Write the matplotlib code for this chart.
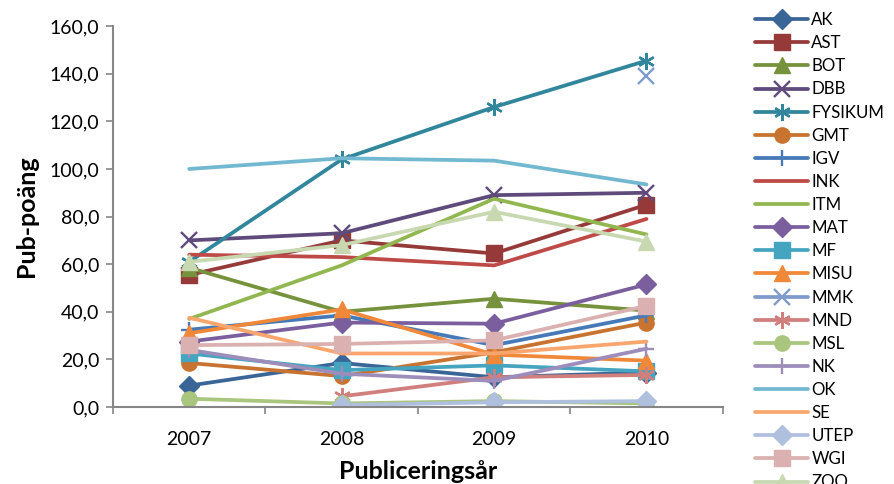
import numpy as np
import matplotlib
matplotlib.use('Agg')
import matplotlib.pyplot as plt
from matplotlib.ticker import FuncFormatter

plt.rcParams['font.family'] = ['Lato', 'DejaVu Sans']

# Pub-poäng per institution och år
years = ['2007', '2008', '2009', '2010']
nan = np.nan

AK = [9.0, 18.5, 12.5, 14.5]
AST = [55.5, 70.0, 64.5, 85.0]
BOT = [58.5, 40.0, 45.5, 40.5]
DBB = [70.0, 73.0, 89.0, 90.0]
FYSIKUM = [61.0, 104.0, 126.0, 145.5]
GMT = [18.5, 13.0, 23.0, 35.5]
IGV = [32.5, 38.5, 26.0, 38.5]
INK = [64.0, 63.0, 59.5, 79.0]
ITM = [37.0, 59.5, 87.5, 72.5]
MAT = [27.5, 35.5, 35.0, 51.5]
MF = [22.5, 15.5, 17.5, 15.0]
MISU = [31.0, 41.0, 22.0, 19.5]
MMK = [nan, nan, nan, 139.0]
MND = [nan, 4.5, 12.5, 13.5]
MSL = [3.5, 1.5, 2.5, 1.5]
NK = [24.0, 14.0, 11.0, 24.5]
OK = [100.0, 104.5, 103.5, 93.5]
SE = [37.5, 22.5, 22.5, 27.5]
UTEP = [nan, 0.8, 2.0, 2.5]
WGI = [26.0, 26.5, 28.0, 42.5]
ZOO = [61.0, 68.0, 82.0, 69.5]

names = ['AK', 'AST', 'BOT', 'DBB', 'FYSIKUM', 'GMT', 'IGV', 'INK', 'ITM', 'MAT',
         'MF', 'MISU', 'MMK', 'MND', 'MSL', 'NK', 'OK', 'SE', 'UTEP', 'WGI', 'ZOO']
series = [AK, AST, BOT, DBB, FYSIKUM, GMT, IGV, INK, ITM, MAT,
          MF, MISU, MMK, MND, MSL, NK, OK, SE, UTEP, WGI, ZOO]

# Office-färger och markörer
colors = ['#3A6597', '#953A38', '#76923C', '#5F4A7C', '#31869C', '#C8732F',
          '#4679B8', '#BD4A47', '#92B751', '#7A5E9E', '#45A5C0', '#F0883A',
          '#7E9BCB', '#D07F7C', '#A9C57E', '#9D8DBA', '#72B8D0', '#F9A66E',
          '#AFC0DE', '#DAB1B0', '#C8D9B2']
star = (6, 2, 0)
markers = ['D', 's', '^', 'x', star, 'o', '+', None, None, 'D',
           's', '^', 'x', star, 'o', '+', None, None, 'D', 's', '^']
sizes = {'D': 10, 's': 11, '^': 11, 'x': 11, 'o': 11, '+': 12, star: 12}

fig = plt.figure(figsize=(8.94, 4.84), dpi=100)
ax = fig.add_axes([0.1264, 0.159, 0.682, 0.787])

x = np.arange(len(years))
for name, vals, c, m in zip(names, series, colors, markers):
    kw = dict(color=c, linewidth=2.7, label=name, solid_capstyle='round')
    if m is not None:
        kw.update(marker=m, markersize=sizes[m], markeredgecolor=c, markerfacecolor=c)
        if m in ('x', '+', star):
            kw.update(markeredgewidth=1.7)
    ax.plot(x, vals, **kw)

ax.set_xlim(-0.5, 3.5)
ax.set_ylim(0, 160)
ax.set_yticks(np.arange(0, 161, 20))
ax.yaxis.set_major_formatter(FuncFormatter(lambda v, p: f'{v:.1f}'.replace('.', ',')))
ax.set_xticks(x)
ax.set_xticklabels(years)
ax.set_xticks(np.arange(-0.5, 3.6, 1), minor=True)
ax.tick_params(axis='x', which='major', length=0, pad=17, labelsize=14)
ax.tick_params(axis='x', which='minor', length=5, width=1.2, color='#868686', direction='out')
ax.tick_params(axis='y', length=5, width=1.2, color='#868686', labelsize=14, pad=5)

for side in ('top', 'right'):
    ax.spines[side].set_visible(False)
for side in ('left', 'bottom'):
    ax.spines[side].set_color('#868686')
    ax.spines[side].set_linewidth(1.5)

ax.set_ylabel('Pub-poäng', fontsize=18, fontweight='bold', labelpad=8)
ax.set_xlabel('Publiceringsår', fontsize=18, fontweight='bold', labelpad=9)

fig.legend(loc='upper left', bbox_to_anchor=(0.845, 0.975), frameon=False,
           fontsize=12.2, handlelength=3.1, handletextpad=0.2, labelspacing=0.42,
           borderaxespad=0, borderpad=0)

fig.savefig('out.png', dpi=100)
